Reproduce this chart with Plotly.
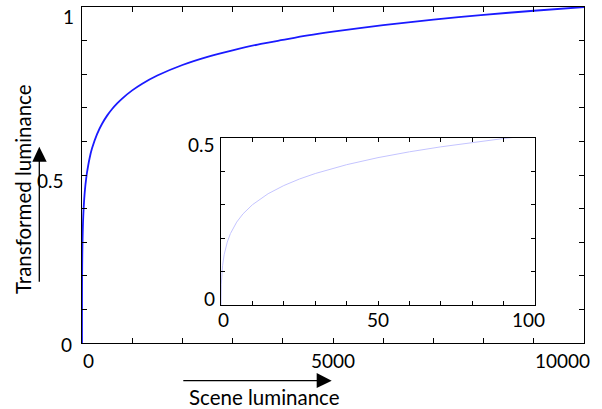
import plotly.graph_objects as go

# Data: scene luminance vs transformed luminance
scene_lum = [0, 0.01, 0.1, 0.5, 1, 2, 3, 5, 7, 10, 15, 20, 25, 30, 40, 50, 60, 70,
             80, 90, 100, 150, 200, 300, 400, 500, 600, 700, 800, 1000, 1200, 1500,
             2000, 2500, 3000, 3500, 4000, 4500, 5000, 6000, 7000, 8000, 9000, 10000]
transformed = [0.0, 0.0215, 0.0623, 0.1175, 0.1500, 0.1880, 0.2134, 0.2478, 0.2723,
               0.2996, 0.3326, 0.3570, 0.3766, 0.3929, 0.4193, 0.4404, 0.4578, 0.4727,
               0.4858, 0.4976, 0.5076, 0.5493, 0.5793, 0.6219, 0.6526, 0.6767, 0.6964,
               0.7130, 0.7275, 0.7518, 0.7717, 0.7960, 0.8274, 0.8517, 0.8710, 0.8882,
               0.9020, 0.9153, 0.9265, 0.9460, 0.9625, 0.9765, 0.9889, 1.0]

main_x_ticks = [0, 5000, 10000]
main_x_labels = ["0", "5000", "10000"]
main_y_ticks = [1, 0.5, 0]
main_y_labels = ["1", "0.5", "0"]
inset_x_ticks = [0, 50, 100]
inset_x_labels = ["0", "50", "100"]
inset_y_ticks = [0.5, 0]
inset_y_labels = ["0.5", "0"]

FONT = "Lato"
FS = 19
TITLE_FS = 20.5

W, H = 602, 409
L, R, T, B = 82, 18, 7, 66
PW, PH = W - L - R, H - T - B


def px(x):
    return (x - L) / PW


def py(y):
    return (H - B - y) / PH


fig = go.Figure()
fig.add_trace(go.Scatter(x=scene_lum, y=transformed, mode="lines",
                         line=dict(color="#1a1aff", width=1.8, shape="spline", smoothing=0.8),
                         xaxis="x", yaxis="y", showlegend=False))
fig.add_trace(go.Scatter(x=scene_lum, y=transformed, mode="lines",
                         line=dict(color="#c4c4ff", width=1),
                         xaxis="x2", yaxis="y2", showlegend=False))

axis_common = dict(showline=True, linecolor="black", linewidth=1, mirror="ticks",
                   ticks="inside", tickcolor="black", showgrid=False, zeroline=False,
                   showticklabels=False)

inset_x0, inset_x1 = px(221), px(535)
inset_y0, inset_y1 = py(305), py(137.7)

fig.update_layout(
    width=W, height=H,
    margin=dict(l=L, r=R, t=T, b=B),
    paper_bgcolor="white", plot_bgcolor="white",
    font=dict(family=FONT, size=FS, color="black"),
    xaxis=dict(range=[0, 10000], dtick=1000, ticklen=5, domain=[0, 1], **axis_common),
    yaxis=dict(range=[0, 1], dtick=0.1, ticklen=5, domain=[0, 1], **axis_common),
    xaxis2=dict(range=[0, 100], dtick=10, ticklen=4, anchor="y2",
                domain=[inset_x0, inset_x1], **axis_common),
    yaxis2=dict(range=[0, 0.5], dtick=0.1, ticklen=4, anchor="x2",
                domain=[inset_y0, inset_y1], **axis_common),
)

ann = []
# main x tick labels
x_anchor = ["left", "center", "right"]
x_shift = [-1, 0, 8]
for v, t, a, s in zip(main_x_ticks, main_x_labels, x_anchor, x_shift):
    ann.append(dict(x=v, y=0, xref="x", yref="paper", text=t, showarrow=False,
                    xanchor=a, yanchor="middle", xshift=s, yshift=-17))
# main y tick labels
y_xshift = [-6, -16, -8]
y_yshift = [-9, -5, -1.5]
for v, t, xs, ys in zip(main_y_ticks, main_y_labels, y_xshift, y_yshift):
    ann.append(dict(x=0, y=v, xref="paper", yref="y", text=t, showarrow=False,
                    xanchor="right", yanchor="middle", xshift=xs, yshift=ys))
# inset x tick labels
ix_shift = [2, 0, -7]
for v, t, s in zip(inset_x_ticks, inset_x_labels, ix_shift):
    ann.append(dict(x=v, y=0, xref="x2", yref="y2", text=t, showarrow=False,
                    xanchor="center", yanchor="middle", xshift=s, yshift=-14.5))
# inset y tick labels
iy_shift = [-7, 6.5]
for v, t, s in zip(inset_y_ticks, inset_y_labels, iy_shift):
    ann.append(dict(x=0, y=v, xref="x2", yref="y2", text=t, showarrow=False,
                    xanchor="right", yanchor="middle", xshift=-4, yshift=s))
# axis titles
ann.append(dict(x=px(23), y=py(189), xref="paper", yref="paper",
                text="Transformed luminance", textangle=-90, showarrow=False,
                xanchor="center", yanchor="middle", font=dict(size=TITLE_FS)))
ann.append(dict(x=px(264), y=py(397), xref="paper", yref="paper",
                text="Scene luminance", showarrow=False,
                xanchor="center", yanchor="middle", font=dict(size=TITLE_FS)))
fig.update_layout(annotations=ann)

# arrows drawn as shapes
shapes = [
    dict(type="line", xref="paper", yref="paper", x0=px(183.3), x1=px(318), y0=py(380.7),
         y1=py(380.7), line=dict(color="black", width=1.3)),
    dict(type="path", xref="paper", yref="paper",
         path=f"M {px(316.7)} {py(373)} L {px(331.7)} {py(380.7)} L {px(316.7)} {py(388)} Z",
         fillcolor="black", line=dict(color="black", width=0)),
    dict(type="line", xref="paper", yref="paper", x0=px(39.3), x1=px(39.3), y0=py(281.7),
         y1=py(160.5), line=dict(color="black", width=1.3)),
    dict(type="path", xref="paper", yref="paper",
         path=f"M {px(32.3)} {py(161.7)} L {px(39.3)} {py(146.7)} L {px(46.7)} {py(161.7)} Z",
         fillcolor="black", line=dict(color="black", width=0)),
]
fig.update_layout(shapes=shapes)

fig.write_html("out.html")
